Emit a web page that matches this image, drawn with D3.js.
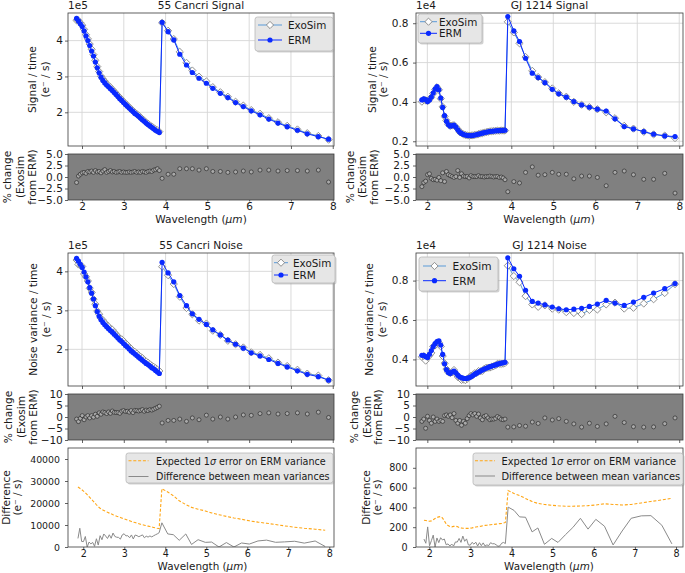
<!DOCTYPE html>
<html><head><meta charset="utf-8">
<script src="https://cdn.jsdelivr.net/npm/d3@7"></script>
<style>body{margin:0;background:#fff}svg{display:block}</style>
</head><body>
<script>
// ---------------- DATA ----------------
// wavelengths (µm): dense channel then sparse channel
const wavelength = [1.870,1.915,1.960,2.005,2.050,2.095,2.140,2.185,2.230,2.275,2.320,2.365,2.410,2.455,2.500,2.545,2.590,2.635,2.680,2.725,2.770,2.815,2.860,2.905,2.950,2.995,3.040,3.085,3.130,3.175,3.220,3.265,3.310,3.355,3.400,3.445,3.490,3.535,3.580,3.625,3.670,3.715,3.760,3.805,3.850,
  3.917,4.06,4.196,4.34,4.50,4.64,4.80,4.976,5.13,5.31,5.49,5.675,5.86,6.05,6.26,6.47,6.69,6.91,7.155,7.39,7.655,7.90];

// 55 Cancri signal, ERM (units of 1e5 e-/s)
const cncSignalERM = [4.62,4.55,4.47,4.39,4.27,4.13,4.00,3.86,3.71,3.57,3.40,3.24,3.10,2.98,2.89,2.82,2.76,2.71,2.66,2.61,2.55,2.50,2.44,2.38,2.33,2.27,2.22,2.17,2.12,2.07,2.02,1.97,1.93,1.89,1.84,1.79,1.75,1.70,1.66,1.62,1.58,1.54,1.50,1.47,1.44,
  4.51,4.25,4.02,3.62,3.32,3.11,2.95,2.81,2.67,2.53,2.41,2.27,2.16,2.04,1.93,1.81,1.70,1.60,1.50,1.40,1.32,1.25];
// % change of ExoSim from ERM (55 Cancri signal)
const cncSignalPct = [-1.2,0.2,0.6,0.9,1.0,0.8,1.2,1.1,1.3,1.0,1.4,1.1,1.2,0.9,1.3,1.6,1.0,1.2,1.4,1.1,1.2,1.0,1.1,1.2,1.0,1.1,1.0,1.0,1.1,1.0,1.1,1.2,1.0,1.1,1.0,1.2,1.1,1.0,1.2,1.3,1.2,1.5,1.6,1.8,1.4,
  -0.3,0.6,0.6,1.8,1.8,1.8,1.5,1.8,1.2,1.2,1.0,1.1,1.3,1.1,1.5,1.5,1.3,1.4,1.4,1.3,1.5,-1.1];

// GJ 1214 signal, ERM (units of 1e4 e-/s)
const gjSignalERM = [0.410,0.416,0.412,0.402,0.410,0.425,0.445,0.465,0.478,0.462,0.420,0.372,0.330,0.302,0.285,0.277,0.280,0.282,0.272,0.258,0.247,0.240,0.235,0.232,0.230,0.229,0.229,0.230,0.232,0.234,0.236,0.239,0.241,0.244,0.246,0.248,0.250,0.251,0.252,0.253,0.254,0.254,0.255,0.255,0.256,
  0.834,0.761,0.707,0.622,0.546,0.524,0.498,0.464,0.441,0.424,0.402,0.385,0.373,0.363,0.354,0.314,0.275,0.263,0.249,0.236,0.227,0.224];
const gjSignalPct = [-2.1,-1.2,-0.9,0.5,0.7,-0.3,-0.6,-0.5,-0.7,-0.1,-0.8,0.9,-1.0,1.2,0.5,0.3,0.1,-0.1,0.1,1.4,-0.1,0.7,0.2,0.1,0.1,-0.2,0.3,0.1,0.1,0.1,0.3,0.1,0.1,0.0,0.1,0.1,0.2,0.1,0.0,0.1,0.1,-0.1,0.0,-0.2,-0.6,
  -3.2,-1.0,-1.3,1.0,2.2,0.4,0.5,1.0,0.6,0.6,-0.4,0.2,0.2,-0.1,-1.9,1.0,1.3,0.5,-0.5,-0.5,0.8,-3.5];

// 55 Cancri noise variance / time, ERM (units of 1e5 e-/s)
const cncNoiseERM = [4.33,4.26,4.18,4.10,3.98,3.86,3.73,3.58,3.44,3.29,3.12,2.97,2.85,2.76,2.69,2.63,2.58,2.53,2.48,2.44,2.39,2.34,2.29,2.24,2.20,2.15,2.10,2.06,2.01,1.96,1.92,1.88,1.84,1.80,1.76,1.72,1.68,1.64,1.61,1.57,1.53,1.50,1.46,1.42,1.38,
  4.23,3.96,3.73,3.38,3.12,2.91,2.77,2.64,2.50,2.37,2.24,2.13,2.03,1.91,1.83,1.74,1.64,1.55,1.45,1.36,1.30,1.21];
const cncNoisePct = [-0.9,-2.0,-0.6,0.6,-1.2,0.0,0.6,-0.4,0.6,-0.1,1.2,0.3,1.8,1.2,2.2,1.9,1.5,2.2,1.6,2.6,2.0,1.9,1.9,1.6,2.5,2.8,2.4,2.5,2.1,2.8,1.9,2.9,2.8,2.6,2.9,3.2,2.5,3.0,2.8,3.2,3.0,3.4,3.8,4.2,4.7,
  -2.6,-1.5,-1.5,-0.9,-1.9,-0.4,-1.2,0.8,-0.9,0.0,-0.9,0.0,0.9,0.7,1.5,1.8,1.3,1.5,1.8,1.3,2.1,-0.2];

// GJ 1214 noise variance / time, ERM (units of 1e4 e-/s)
const gjNoiseERM = [0.421,0.420,0.414,0.410,0.426,0.445,0.465,0.480,0.490,0.494,0.473,0.425,0.378,0.348,0.334,0.328,0.336,0.341,0.332,0.320,0.312,0.307,0.304,0.303,0.304,0.307,0.312,0.318,0.325,0.330,0.336,0.341,0.346,0.351,0.355,0.359,0.363,0.366,0.369,0.372,0.376,0.379,0.381,0.383,0.385,
  0.916,0.860,0.822,0.751,0.694,0.686,0.677,0.666,0.657,0.652,0.655,0.659,0.669,0.681,0.700,0.686,0.674,0.691,0.715,0.737,0.759,0.785];
const gjNoisePct = [-1.9,-0.9,-4.9,0.3,-1.5,-2.7,0.0,-1.9,-0.9,-1.9,-1.5,-1.9,0.6,0.9,0.3,0.9,-0.3,1.5,-1.5,-2.7,-1.5,-3.6,-1.9,-2.7,-0.7,0.6,1.5,0.9,1.5,0.3,1.3,-0.4,-1.2,0.3,0.6,-0.4,-1.2,-0.9,-0.9,-0.6,0.2,-0.3,-1.0,-1.2,-0.9,
  -4.4,-4.3,-3.7,-4.0,-2.2,-2.8,-0.4,-1.3,-0.7,-1.9,-3.0,-4.4,-2.7,-4.1,-3.0,0.3,-2.4,-4.2,-4.4,-4.3,-2.9,-0.4];

// Expected 1-sigma error on ERM variance (e-/s)
const cncSigma = [27300,26700,26100,25400,24600,23800,22900,22000,21100,20200,19200,18300,17600,17000,16600,16200,15800,15400,15100,14700,14400,14000,13700,13400,13100,12800,12500,12200,11900,11600,11300,11100,10800,10600,10300,10100,9900,9700,9500,9300,9100,8900,8700,8500,8400,
  26500,25000,23300,21000,19300,18000,17200,16400,15500,14700,13900,13200,12600,11900,11300,10800,10200,9600,9000,8500,8100,7600];
const gjSigma = [270,268,263,260,264,276,288,298,304,308,293,264,234,216,207,203,208,211,206,198,193,190,188,188,188,190,193,197,202,205,208,211,215,218,220,223,225,227,229,231,233,236,238,242,248,
  570,540,520,490,460,440,430,422,416,412,412,414,418,424,436,430,424,430,445,460,475,492];

const xTickValues = [2,3,4,5,6,7,8];
const cncScale = 1e5, gjScale = 1e4;

// derived series: ExoSim = ERM * (1 + pct/100); difference between mean variances
const exoFrom = (erm, pct) => erm.map((v,i) => v*(1+pct[i]/100));
const cncSignalExo = exoFrom(cncSignalERM, cncSignalPct);
const gjSignalExo  = exoFrom(gjSignalERM, gjSignalPct);
const cncNoiseExo  = exoFrom(cncNoiseERM, cncNoisePct);
const gjNoiseExo   = exoFrom(gjNoiseERM, gjNoisePct);
const cncDiff = cncNoiseERM.map((v,i) => Math.abs(cncNoiseExo[i]-v)*cncScale);
const gjDiff  = gjNoiseERM.map((v,i) => Math.abs(gjNoiseExo[i]-v)*gjScale);

// ---------------- DRAWING ----------------
const FONT = "'DejaVu Sans', sans-serif";
const INK = "#1a1a1a";
const ERM_C = "#0a2aff", EXO_LINE = "#5a9bd8", EXO_EDGE = "#858585";
const svg = d3.select("body").append("svg").attr("width",685).attr("height",573)
  .attr("font-family", FONT);
svg.append("rect").attr("width",685).attr("height",573).attr("fill","#fff");
const defs = svg.append("defs");
let clipN = 0;

function makeAxes(o){
  const x = d3.scaleLinear().domain(o.xDomain).range([o.x0,o.x1]);
  const y = d3.scaleLinear().domain(o.yDomain).range([o.y1,o.y0]);
  const g = svg.append("g");
  g.append("rect").attr("x",o.x0).attr("y",o.y0).attr("width",o.x1-o.x0).attr("height",o.y1-o.y0)
    .attr("fill", o.bg || "#fff");
  const id = "clip"+(clipN++);
  defs.append("clipPath").attr("id",id).append("rect")
    .attr("x",o.x0).attr("y",o.y0).attr("width",o.x1-o.x0).attr("height",o.y1-o.y0);
  if (o.grid){
    const gg = g.append("g").attr("stroke","#d6d6d6").attr("stroke-width",0.9);
    xTickValues.forEach(t => gg.append("line").attr("x1",x(t)).attr("x2",x(t)).attr("y1",o.y0).attr("y2",o.y1));
    o.yTicks.forEach(t => gg.append("line").attr("y1",y(t)).attr("y2",y(t)).attr("x1",o.x0).attr("x2",o.x1));
  }
  const plot = g.append("g").attr("clip-path",`url(#${id})`);
  return {x,y,g,plot,o};
}

function finishAxes(ax, s){
  const o = ax.o;
  ax.g.append("rect").attr("x",o.x0).attr("y",o.y0).attr("width",o.x1-o.x0).attr("height",o.y1-o.y0)
    .attr("fill","none").attr("stroke","#3a3a3a").attr("stroke-width",0.8);
  const xa = d3.axisBottom(ax.x).tickValues(xTickValues).tickSize(s.xTickSize).tickPadding(s.xPad)
    .tickFormat(s.xLabels ? d3.format("d") : () => "");
  const gx = ax.g.append("g").attr("transform",`translate(0,${o.y1})`).call(xa);
  gx.select(".domain").remove();
  gx.attr("font-family",FONT).attr("font-size",s.fs);
  gx.selectAll("line").attr("stroke","#3a3a3a").attr("stroke-width",0.8);
  gx.selectAll("text").attr("fill",INK);
  const ya = d3.axisLeft(ax.y).tickValues(o.yTicks).tickSize(3).tickPadding(s.yPad || 2.2).tickFormat(s.yFmt);
  const gy = ax.g.append("g").attr("transform",`translate(${o.x0},0)`).call(ya);
  gy.select(".domain").remove();
  gy.attr("font-family",FONT).attr("font-size",s.yfs || s.fs);
  gy.selectAll("line").attr("stroke","#3a3a3a").attr("stroke-width",0.8);
  gy.selectAll("text").attr("fill",INK);
}

function diamond(sel, cx, cy, r){
  sel.append("path").attr("d",`M${cx},${cy-r}L${cx+r},${cy}L${cx},${cy+r}L${cx-r},${cy}Z`)
    .attr("fill","#fff").attr("stroke",EXO_EDGE).attr("stroke-width",0.9);
}

function drawSeries(ax, exoVals, ermVals){
  const pts = (vals) => wavelength.map((w,i) => [ax.x(w), ax.y(vals[i])]);
  const line = d3.line();
  const pe = pts(exoVals), pr = pts(ermVals);
  ax.plot.append("path").attr("d",line(pe)).attr("fill","none").attr("stroke",EXO_LINE).attr("stroke-width",1);
  pe.forEach(p => diamond(ax.plot, p[0], p[1], 3.6));
  ax.plot.append("path").attr("d",line(pr)).attr("fill","none").attr("stroke",ERM_C).attr("stroke-width",1);
  ax.plot.selectAll(null).data(pr).enter().append("circle")
    .attr("cx",d=>d[0]).attr("cy",d=>d[1]).attr("r",2.6).attr("fill",ERM_C);
}

function drawResid(ax, pct){
  ax.plot.selectAll(null).data(wavelength).enter().append("circle")
    .attr("cx",(d)=>ax.x(d)).attr("cy",(d,i)=>ax.y(pct[i])).attr("r",2)
    .attr("fill","#a9a9a9").attr("stroke","#1e1e1e").attr("stroke-width",0.6);
}

function drawDiff(ax, sigma, diff){
  const line = d3.line().x((d,i)=>ax.x(wavelength[i])).y(d=>ax.y(d));
  ax.plot.append("path").attr("d",line(sigma)).attr("fill","none").attr("stroke","#ffa615")
    .attr("stroke-width",1.1).attr("stroke-dasharray","3,1.8");
  ax.plot.append("path").attr("d",line(diff)).attr("fill","none").attr("stroke","#8a8a8a").attr("stroke-width",1);
}

function ylabel(lines, xs, cy, fs){
  lines.forEach((t,i) => {
    const tx = svg.append("text").attr("transform",`translate(${xs[i]},${cy}) rotate(-90)`)
      .attr("text-anchor","middle").attr("dominant-baseline","central")
      .attr("font-size",fs).attr("fill",INK);
    tx.text(t);
  });
}
function text(x,y,t,fs,anchor){
  return svg.append("text").attr("x",x).attr("y",y).attr("font-size",fs).attr("fill",INK)
    .attr("text-anchor",anchor||"start").text(t);
}
function wavelengthLabel(cx, y, fs){
  const t = svg.append("text").attr("x",cx).attr("y",y).attr("font-size",fs).attr("fill",INK).attr("text-anchor","middle");
  t.append("tspan").text("Wavelength (");
  t.append("tspan").attr("font-style","italic").text("μm");
  t.append("tspan").text(")");
}

function legendBox(x,y,w,h){
  svg.append("rect").attr("x",x+1.5).attr("y",y+1.5).attr("width",w).attr("height",h).attr("rx",2.5)
    .attr("fill","#9a9a9a").attr("opacity",0.45);
  svg.append("rect").attr("x",x).attr("y",y).attr("width",w).attr("height",h).attr("rx",2.5)
    .attr("fill","#e6e6e6").attr("stroke","#b8b8b8").attr("stroke-width",0.8);
}
function legendSeries(L){
  legendBox(L.x, L.y, L.w, L.h);
  const hx0 = L.hx0, hx1 = L.hx1, mx = (hx0+hx1)/2;
  svg.append("line").attr("x1",hx0).attr("x2",hx1).attr("y1",L.e1).attr("y2",L.e1).attr("stroke",EXO_LINE).attr("stroke-width",1);
  diamond(svg, mx, L.e1, 3.6);
  svg.append("line").attr("x1",hx0).attr("x2",hx1).attr("y1",L.e2).attr("y2",L.e2).attr("stroke",ERM_C).attr("stroke-width",1);
  svg.append("circle").attr("cx",mx).attr("cy",L.e2).attr("r",2.6).attr("fill",ERM_C);
  text(L.tx, L.e1, "ExoSim", L.fs).attr("dominant-baseline","central");
  text(L.tx, L.e2, "ERM", L.fs).attr("dominant-baseline","central");
}
function legendDiff(L){
  legendBox(L.x, L.y, L.w, L.h);
  svg.append("line").attr("x1",L.hx0).attr("x2",L.hx1).attr("y1",L.e1).attr("y2",L.e1)
    .attr("stroke","#ffa615").attr("stroke-width",1.1).attr("stroke-dasharray","3,1.8");
  svg.append("line").attr("x1",L.hx0).attr("x2",L.hx1).attr("y1",L.e2).attr("y2",L.e2)
    .attr("stroke","#8a8a8a").attr("stroke-width",1);
  const t1 = text(L.tx, L.e1, "", L.fs).attr("dominant-baseline","central");
  t1.append("tspan").text("Expected 1");
  t1.append("tspan").attr("font-style","italic").text("σ");
  t1.append("tspan").text(" error on ERM variance");
  text(L.tx, L.e2, "Difference between mean variances", L.fs).attr("dominant-baseline","central");
}

const FS = 10.5;
const fmt1 = d3.format(".1f"), fmtD = d3.format("d");
const L = {x0:68, x1:334}, R = {x0:416, x1:683};
const domL = [1.665, 8.03], domR = [1.73, 8.09];

// ---- Row 1: signal ----
let a = makeAxes({...L, y0:13, y1:146, xDomain:domL, yDomain:[1.06,4.77], yTicks:[2,3,4], grid:true});
drawSeries(a, cncSignalExo, cncSignalERM);
finishAxes(a, {xTickSize:3, xPad:2, xLabels:false, fs:FS, yFmt:fmtD});
text(68, 8.5, "1e5", FS);
text(201, 8.5, "55 Cancri Signal", 10.6, "middle");
ylabel(["Signal / time","(e⁻ / s)"], [32,44.5], 79.5, 10.6);
legendSeries({x:255,y:17,w:78,h:34,hx0:258,hx1:282,e1:25,e2:40,tx:288,fs:10.4});

a = makeAxes({...R, y0:13, y1:146, xDomain:domR, yDomain:[0.176,0.852], yTicks:[0.2,0.4,0.6,0.8], grid:true});
drawSeries(a, gjSignalExo, gjSignalERM);
finishAxes(a, {xTickSize:3, xPad:2, xLabels:false, fs:FS, yFmt:fmt1, yPad:4.5});
text(416, 8.5, "1e4", FS);
text(549.5, 8.5, "GJ 1214 Signal", 10.6, "middle");
ylabel(["Signal / time","(e⁻ / s)"], [371.5,383], 79.5, 10.6);
legendSeries({x:418,y:14,w:64,h:29,hx0:420,hx1:437,e1:21.7,e2:33.3,tx:439,fs:10.4});

// ---- Row 1: residuals ----
a = makeAxes({...L, y0:154, y1:200, xDomain:domL, yDomain:[-5,5], yTicks:[-5,-2.5,0,2.5,5], bg:"#808080"});
drawResid(a, cncSignalPct);
finishAxes(a, {xTickSize:1.5, xPad:1, xLabels:true, fs:FS, yFmt:fmt1});
ylabel(["% change","(Exosim","from ERM)"], [7,19.5,31.5], 177, 10.6);
wavelengthLabel(201, 223, 10.6);

a = makeAxes({...R, y0:154, y1:200, xDomain:domR, yDomain:[-5,5], yTicks:[-5,-2.5,0,2.5,5], bg:"#808080"});
drawResid(a, gjSignalPct);
finishAxes(a, {xTickSize:1.5, xPad:1, xLabels:true, fs:FS, yFmt:fmt1, yPad:3});
ylabel(["% change","(Exosim","from ERM)"], [350,362,373.5], 177, 10.6);
wavelengthLabel(549, 223, 10.6);

// ---- Row 2: noise ----
a = makeAxes({...L, y0:253, y1:386, xDomain:domL, yDomain:[1.06,4.47], yTicks:[2,3,4], grid:true});
drawSeries(a, cncNoiseExo, cncNoiseERM);
finishAxes(a, {xTickSize:3, xPad:2, xLabels:false, fs:FS, yFmt:fmtD});
text(68, 249, "1e5", FS);
text(201, 249, "55 Cancri Noise", 10.6, "middle");
ylabel(["Noise variance / time","(e⁻ / s)"], [32.5,45.5], 319.5, 10.6);
legendSeries({x:272,y:255,w:63,h:28,hx0:274,hx1:288,e1:262.7,e2:275,tx:293,fs:10.4});

a = makeAxes({...R, y0:253, y1:386, xDomain:domR, yDomain:[0.265,0.94], yTicks:[0.4,0.6,0.8], grid:true});
drawSeries(a, gjNoiseExo, gjNoiseERM);
finishAxes(a, {xTickSize:3, xPad:2, xLabels:false, fs:FS, yFmt:fmt1, yPad:4.5});
text(416, 249, "1e4", FS);
text(549.5, 249, "GJ 1214 Noise", 10.6, "middle");
ylabel(["Noise variance / time","(e⁻ / s)"], [369,381.5], 319.5, 10.6);
legendSeries({x:419,y:257,w:79,h:34,hx0:423,hx1:446,e1:266,e2:280.7,tx:452.5,fs:10.6});

// ---- Row 2: residuals ----
a = makeAxes({...L, y0:394, y1:440, xDomain:domL, yDomain:[-10,10], yTicks:[-10,-5,0,5,10], bg:"#808080"});
drawResid(a, cncNoisePct);
finishAxes(a, {xTickSize:3, xPad:2, xLabels:false, fs:FS, yFmt:fmtD});
ylabel(["% change","(Exosim","from ERM)"], [8,21,33], 417, 10.6);

a = makeAxes({...R, y0:394, y1:440, xDomain:domR, yDomain:[-10,10], yTicks:[-10,-5,0,5,10], bg:"#808080"});
drawResid(a, gjNoisePct);
finishAxes(a, {xTickSize:3, xPad:2, xLabels:false, fs:FS, yFmt:fmtD, yPad:3});
ylabel(["% change","(Exosim","from ERM)"], [354,367,378], 417, 10.6);

// ---- Row 3: differences ----
a = makeAxes({...L, y0:448, y1:547, xDomain:[1.627,8.115], yDomain:[0,45000], yTicks:[0,10000,20000,30000,40000]});
drawDiff(a, cncSigma, cncDiff);
finishAxes(a, {xTickSize:3, xPad:0.5, xLabels:true, fs:9.6, yFmt:fmtD, yfs:9.4, yPad:5});
ylabel(["Difference","(e⁻ / s)"], [5.5,17], 497.5, 10.6);
wavelengthLabel(202.5, 570, 10.4);
legendDiff({x:126,y:453,w:207,h:30,hx0:128.5,hx1:148.5,e1:460.7,e2:476.5,tx:156,fs:9.6});

a = makeAxes({...R, y0:448, y1:547, xDomain:[1.676,8.17], yDomain:[0,1000], yTicks:[0,200,400,600,800]});
drawDiff(a, gjSigma, gjDiff);
finishAxes(a, {xTickSize:3, xPad:0.5, xLabels:true, fs:9.6, yFmt:fmtD, yfs:9.6, yPad:5.5});
ylabel(["Difference","(e⁻ / s)"], [365.5,377], 497.5, 10.6);
wavelengthLabel(549, 570, 10.4);
legendDiff({x:473,y:453,w:210,h:32,hx0:475,hx1:495,e1:460.7,e2:476,tx:501.5,fs:9.9});
</script>
</body></html>
